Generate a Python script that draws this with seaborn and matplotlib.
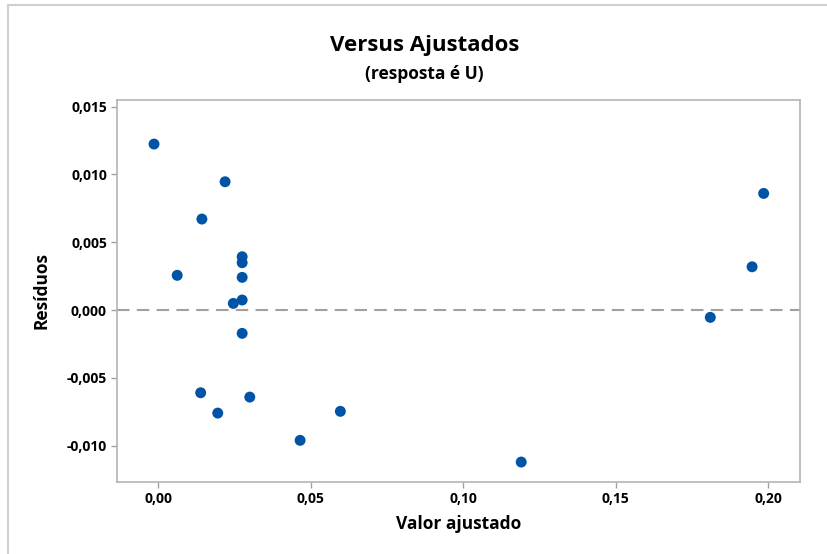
import matplotlib
matplotlib.use("Agg")
import matplotlib.pyplot as plt
from matplotlib.lines import Line2D
import seaborn as sns
import pandas as pd

# Fitted values and residuals (response U)
fitted = [-0.0014, 0.0062, 0.0143, 0.0219, 0.0275, 0.0275, 0.0275, 0.0246,
          0.0275, 0.0275, 0.0139, 0.0195, 0.0300, 0.0465, 0.0597, 0.1190,
          0.1810, 0.1947, 0.1985]
residuals = [0.01224, 0.00256, 0.00671, 0.00946, 0.00393, 0.00349, 0.00241,
             0.00049, 0.00074, -0.00172, -0.00610, -0.00760, -0.00642,
             -0.00961, -0.00747, -0.01121, -0.00054, 0.00319, 0.00860]

x_ticks = [0.00, 0.05, 0.10, 0.15, 0.20]
x_tick_labels = ["0,00", "0,05", "0,10", "0,15", "0,20"]
y_ticks = [-0.010, -0.005, 0.000, 0.005, 0.010, 0.015]
y_tick_labels = ["-0,010", "-0,005", "0,000", "0,005", "0,010", "0,015"]

df = pd.DataFrame({"Valor ajustado": fitted, "Resíduos": residuals})

sns.set_theme(style="white")
plt.rcParams["font.family"] = ["Open Sans", "DejaVu Sans"]

fig = plt.figure(figsize=(8.27, 5.54), dpi=100)
ax = fig.add_axes([0.1411, 0.130, 0.8262, 0.6895])

# reference line at zero residual
ax.axhline(0, color="#a0a0a0", lw=1.5, ls=(0, (6, 3.5)), zorder=1)

sns.scatterplot(data=df, x="Valor ajustado", y="Resíduos", ax=ax,
                color="#0054a6", s=62, edgecolor="none", zorder=3)

ax.set_xlim(-0.01364, 0.2104)
ax.set_ylim(-0.01268, 0.01549)
ax.set_xticks(x_ticks)
ax.set_xticklabels(x_tick_labels)
ax.set_yticks(y_ticks)
ax.set_yticklabels(y_tick_labels)

for sp in ax.spines.values():
    sp.set_color("#b4b4b4")
    sp.set_linewidth(1.2)

ax.tick_params(axis="both", which="major", direction="out", length=4,
               width=1, color="#a0a0a0", labelsize=10, pad=3,
               bottom=True, left=True)
for lab in ax.get_xticklabels() + ax.get_yticklabels():
    lab.set_fontweight("bold")
    lab.set_color("black")

ax.set_xlabel("Valor ajustado", fontsize=12.5, fontweight="bold",
              color="black", labelpad=7)
ax.set_ylabel("Resíduos", fontsize=12.5, fontweight="bold",
              color="black", labelpad=12)

fig.text(0.513, 0.917, "Versus Ajustados", ha="center", va="center",
         fontsize=16, fontweight="bold", color="black")
fig.text(0.513, 0.867, "(resposta é U)", ha="center", va="center",
         fontsize=12.5, fontweight="bold", color="black")

# light frame around the graph window
fig.add_artist(Line2D([8 / 827, 1.0], [1 - 5 / 554, 1 - 5 / 554],
                      transform=fig.transFigure, color="#d0d0d0", lw=1.5))
fig.add_artist(Line2D([8 / 827, 8 / 827], [0.0, 1 - 5 / 554],
                      transform=fig.transFigure, color="#d0d0d0", lw=1.5))

fig.savefig("out.png", dpi=100, facecolor="white")
